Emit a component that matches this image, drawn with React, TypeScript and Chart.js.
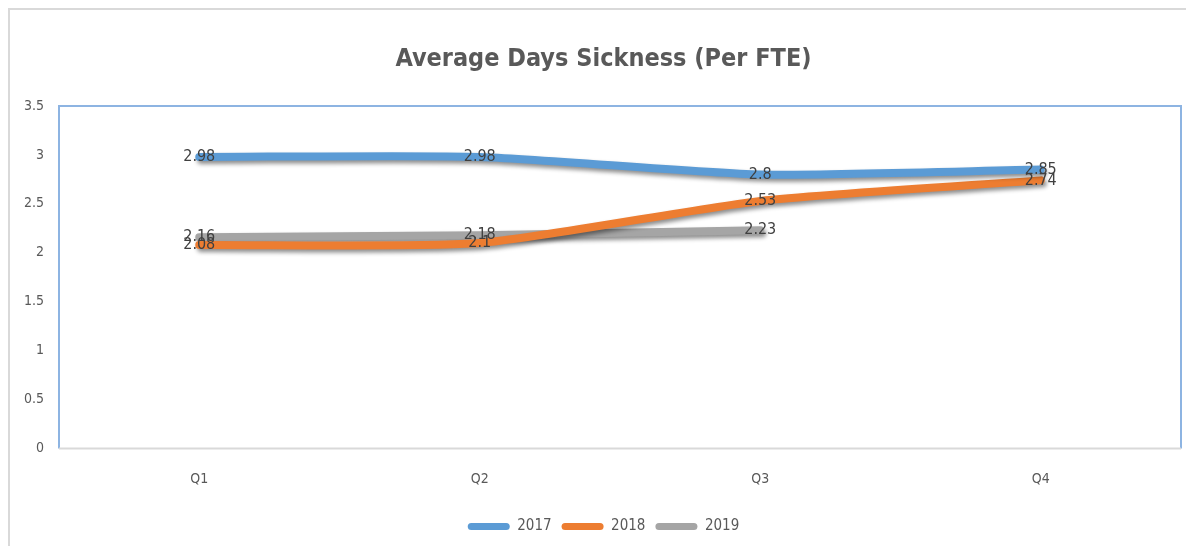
import React, { useEffect, useRef } from "react";
import { Chart, registerables } from "chart.js";

Chart.register(...registerables);

const categories = ["Q1", "Q2", "Q3", "Q4"];
const series2017 = [2.98, 2.98, 2.8, 2.85];
const series2018 = [2.08, 2.1, 2.53, 2.74];
const series2019 = [2.16, 2.18, 2.23, null];
const seriesNames = ["2017", "2018", "2019"];
const seriesColors = ["#5B9BD5", "#ED7D31", "#A5A5A5"];
const yTicks = [0, 0.5, 1, 1.5, 2, 2.5, 3, 3.5];

const FONT = "'Liberation Sans Narrow', 'DejaVu Sans Condensed', 'Roboto Condensed', 'Liberation Sans', sans-serif";

const framePlugin = {
  id: "frame",
  afterLayout(chart: any) {
    // let the y-axis labels use the space left of the axis box (avoid clipping)
    if (chart.scales.y) chart.scales.y.left = 0;
  },
  beforeDatasetsDraw(chart: any) {
    const { ctx, chartArea } = chart;
    const { left, right, top, bottom } = chartArea;
    ctx.save();
    ctx.lineWidth = 2;
    ctx.strokeStyle = "#8DB4E2";
    ctx.beginPath();
    ctx.moveTo(left, bottom);
    ctx.lineTo(left, top);
    ctx.lineTo(right, top);
    ctx.lineTo(right, bottom);
    ctx.stroke();
    ctx.strokeStyle = "#D9D9D9";
    ctx.beginPath();
    ctx.moveTo(left, bottom);
    ctx.lineTo(right, bottom);
    ctx.stroke();
    ctx.restore();
  },
};

const shadowPlugin = {
  id: "lineShadow",
  beforeDatasetsDraw(chart: any) {
    const ctx = chart.ctx;
    ctx.save();
    ctx.shadowColor = "rgba(0,0,0,0.45)";
    ctx.shadowBlur = 4;
    ctx.shadowOffsetX = 2;
    ctx.shadowOffsetY = 3;
  },
  afterDatasetsDraw(chart: any) {
    chart.ctx.restore();
  },
};

const labelsPlugin = {
  id: "valueLabels",
  afterDatasetsDraw(chart: any) {
    const ctx = chart.ctx;
    ctx.save();
    ctx.font = `16px ${FONT}`;
    ctx.fillStyle = "#404040";
    ctx.textAlign = "center";
    ctx.textBaseline = "middle";
    chart.data.datasets.forEach((ds: any, i: number) => {
      const meta = chart.getDatasetMeta(i);
      meta.data.forEach((pt: any, j: number) => {
        const v = ds.data[j];
        if (v === null || v === undefined) return;
        ctx.fillText(String(v), pt.x, pt.y);
      });
    });
    ctx.restore();
  },
};

export default function App() {
  const ref = useRef<HTMLCanvasElement | null>(null);

  useEffect(() => {
    if (!ref.current) return;
    const data = [series2017, series2018, series2019];
    const chart = new Chart(ref.current, {
      type: "line",
      data: {
        labels: categories,
        datasets: data.map((d, i) => ({
          label: seriesNames[i],
          data: d,
          borderColor: seriesColors[i],
          backgroundColor: seriesColors[i],
          borderWidth: 8,
          pointRadius: 0,
          pointHoverRadius: 0,
          borderCapStyle: "round",
          borderJoinStyle: "round",
          tension: 0.2,
          spanGaps: false,
        })),
      },
      options: {
        animation: false,
        responsive: false,
        maintainAspectRatio: false,
        events: [],
        layout: { padding: { left: 16, right: 5, top: 0, bottom: 2 } },
        plugins: {
          tooltip: { enabled: false },
          title: {
            display: true,
            text: "Average Days Sickness (Per FTE)",
            color: "#595959",
            font: { family: FONT, size: 25, weight: "bold", lineHeight: 1.2 },
            padding: { top: 34, bottom: 32 },
          },
          legend: {
            position: "bottom",
            labels: {
              color: "#595959",
              font: { family: FONT, size: 15 },
              boxWidth: 42,
              boxHeight: 7,
              padding: 10,
              useBorderRadius: true,
              borderRadius: 3.5,
              generateLabels: (ch: any) =>
                ch.data.datasets.map((ds: any, i: number) => ({
                  text: ds.label,
                  fillStyle: ds.borderColor,
                  strokeStyle: ds.borderColor,
                  lineWidth: 0,
                  borderRadius: 3.5,
                  fontColor: "#595959",
                  hidden: false,
                  datasetIndex: i,
                })),
            },
          },
        },
        scales: {
          x: {
            offset: true,
            grid: { display: false, drawTicks: false },
            border: { display: false },
            ticks: { color: "#595959", font: { family: FONT, size: 14 }, padding: 22 },
            afterFit: (s: any) => {
              s.height = 60.5;
            },
          },
          y: {
            min: 0,
            max: 3.5,
            grid: { display: false, drawTicks: false },
            border: { display: false },
            afterBuildTicks: (s: any) => {
              s.ticks = yTicks.map((v) => ({ value: v }));
            },
            ticks: {
              color: "#595959",
              font: { family: FONT, size: 14 },
              padding: 15,
              callback: (v: any) => String(v),
            },
            afterFit: (s: any) => {
              s.width = 33;
            },
          },
        },
      },
      plugins: [framePlugin, shadowPlugin, labelsPlugin],
    } as any);
    return () => chart.destroy();
  }, []);

  return (
    <div
      style={{
        width: 1176,
        height: 536,
        borderTop: "2px solid #D9D9D9",
        borderLeft: "2px solid #D9D9D9",
        background: "#fff",
      }}
    >
      <canvas ref={ref} width={1176} height={536} style={{ display: "block" }} />
    </div>
  );
}
